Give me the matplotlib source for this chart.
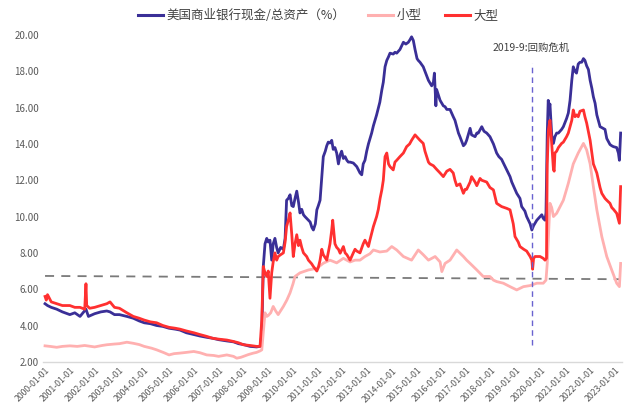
import matplotlib
matplotlib.use("Agg")
import matplotlib.pyplot as plt
from matplotlib.lines import Line2D

plt.rcParams['font.family'] = ['Noto Sans CJK SC', 'DejaVu Sans']

# ---- data (decimal years, % of assets) ----
all_t = [2000.0, 2000.1, 2000.25, 2000.47, 2000.7, 2001.0, 2001.2, 2001.41, 2001.65, 2001.75,
         2002.0, 2002.25, 2002.49, 2002.62, 2002.8, 2003.0, 2003.3, 2003.56, 2003.8, 2004.0,
         2004.25, 2004.5, 2004.75, 2005.0, 2005.25, 2005.44, 2005.7, 2006.0, 2006.25, 2006.52,
         2006.75, 2007.0, 2007.33, 2007.6, 2007.8, 2008.0, 2008.27, 2008.53, 2008.67, 2008.74,
         2008.8, 2008.87, 2008.94, 2009.0, 2009.07, 2009.14, 2009.2, 2009.27, 2009.34, 2009.4,
         2009.5, 2009.61, 2009.68, 2009.74, 2009.81, 2009.88, 2009.95, 2010.01, 2010.08, 2010.15,
         2010.22, 2010.28, 2010.35, 2010.42, 2010.48, 2010.55, 2010.62, 2010.69, 2010.76, 2010.82,
         2010.9, 2010.96, 2011.02, 2011.09, 2011.16, 2011.22, 2011.3, 2011.36, 2011.42, 2011.49,
         2011.56, 2011.62, 2011.69, 2011.76, 2011.83, 2011.9, 2011.96, 2012.03, 2012.1, 2012.17,
         2012.23, 2012.3, 2012.43, 2012.57, 2012.7, 2012.77, 2012.83, 2012.9, 2012.97, 2013.04,
         2013.17, 2013.24, 2013.37, 2013.5, 2013.58, 2013.64, 2013.71, 2013.78, 2013.85, 2013.91,
         2014.04, 2014.11, 2014.18, 2014.31, 2014.38, 2014.45, 2014.55, 2014.65, 2014.72, 2014.78,
         2014.85, 2014.92, 2015.0, 2015.05, 2015.12, 2015.25, 2015.32, 2015.46, 2015.59, 2015.66,
         2015.7, 2015.73, 2015.76, 2015.79, 2015.86, 2015.93, 2016.06, 2016.13, 2016.2, 2016.33,
         2016.46, 2016.53, 2016.67, 2016.73, 2016.87, 2016.94, 2017.0, 2017.14, 2017.2, 2017.34,
         2017.41, 2017.47, 2017.61, 2017.7, 2017.81, 2017.94, 2018.08, 2018.21, 2018.3, 2018.41,
         2018.5, 2018.62, 2018.75, 2018.82, 2018.95, 2019.02, 2019.15, 2019.22, 2019.35, 2019.42,
         2019.56, 2019.63, 2019.7, 2019.83, 2019.96, 2020.03, 2020.09, 2020.16, 2020.2, 2020.25,
         2020.29, 2020.33, 2020.36, 2020.43, 2020.5, 2020.56, 2020.63, 2020.7, 2020.83, 2020.9,
         2021.03, 2021.1, 2021.17, 2021.24, 2021.3, 2021.37, 2021.43, 2021.5, 2021.57, 2021.64,
         2021.71, 2021.77, 2021.84, 2021.91, 2021.98, 2022.05, 2022.11, 2022.18, 2022.25, 2022.38,
         2022.45, 2022.58, 2022.65, 2022.78, 2022.85, 2022.92, 2023.05, 2023.12, 2023.16, 2023.21]
all_v = [5.2, 5.1, 5.0, 4.9, 4.75, 4.6, 4.7, 4.5, 4.9, 4.5,
         4.65, 4.75, 4.8, 4.75, 4.6, 4.6, 4.5, 4.4, 4.25, 4.15,
         4.1, 4.0, 3.95, 3.85, 3.8, 3.75, 3.6, 3.5, 3.42, 3.35,
         3.3, 3.22, 3.15, 3.1, 3.0, 2.95, 2.85, 2.82, 2.85, 3.5,
         7.25, 8.5, 8.8, 8.6, 8.7, 7.6, 8.5, 8.8, 8.3, 8.0,
         8.3, 8.2, 8.8, 10.9, 11.0, 11.2, 10.6, 10.55, 11.0, 11.4,
         10.8, 10.2, 10.4, 10.1, 10.0, 9.9, 9.8, 9.7, 9.4, 9.26,
         9.6, 10.37, 10.6, 10.9, 12.2, 13.3, 13.6, 13.9, 14.1, 14.05,
         14.2, 13.7, 13.8, 13.5, 12.9, 13.4, 13.6, 13.2, 13.3, 13.1,
         13.0, 13.0, 12.95, 12.75, 12.4, 12.3, 12.9, 13.1, 13.6, 14.0,
         14.6, 15.0, 15.6, 16.3, 16.97, 17.4, 18.25, 18.6, 18.8, 19.0,
         18.95, 19.05, 19.0, 19.2, 19.4, 19.6, 19.5, 19.6, 19.75, 19.9,
         19.7, 19.2, 18.7, 18.6, 18.5, 18.25, 18.0, 17.5, 17.2, 17.4,
         17.9, 17.0, 16.1, 17.0, 16.7, 16.4, 16.1, 16.05, 15.9, 15.9,
         15.5, 15.3, 14.6, 14.4, 13.9, 14.0, 14.2, 14.86, 14.5, 14.4,
         14.6, 14.6, 14.95, 14.7, 14.6, 14.4, 14.0, 13.5, 13.3, 13.15,
         12.9, 12.57, 12.2, 11.9, 11.5, 11.28, 11.0, 10.55, 10.3, 10.0,
         9.6, 9.26, 9.5, 9.8, 10.0, 10.1, 9.9, 9.8, 10.2, 14.5,
         16.4, 16.0, 16.2, 14.5, 14.03, 14.4, 14.6, 14.6, 14.8, 14.95,
         15.4, 15.7, 16.4, 17.5, 18.25, 18.0, 17.9, 18.4, 18.5, 18.5,
         18.7, 18.6, 18.3, 18.1, 17.5, 17.06, 16.6, 16.24, 15.6, 14.95,
         14.9, 14.8, 14.3, 13.97, 13.9, 13.85, 13.8, 13.5, 13.1, 14.6]

small_t = [2000.0, 2000.2, 2000.47, 2000.7, 2001.0, 2001.3, 2001.6, 2002.0, 2002.3, 2002.49,
           2002.8, 2003.0, 2003.3, 2003.56, 2003.8, 2004.0, 2004.3, 2004.5, 2004.8, 2005.0,
           2005.2, 2005.44, 2005.7, 2006.0, 2006.25, 2006.52, 2006.8, 2007.0, 2007.33, 2007.6,
           2007.73, 2007.9, 2008.0, 2008.2, 2008.4, 2008.53, 2008.67, 2008.74, 2008.87, 2008.94,
           2009.0, 2009.1, 2009.2, 2009.3, 2009.4, 2009.61, 2009.75, 2009.88, 2010.0, 2010.08,
           2010.28, 2010.62, 2010.96, 2011.22, 2011.49, 2011.76, 2012.03, 2012.3, 2012.5, 2012.7,
           2012.9, 2013.1, 2013.24, 2013.5, 2013.78, 2013.98, 2014.18, 2014.45, 2014.78, 2015.05,
           2015.25, 2015.46, 2015.73, 2015.93, 2016.0, 2016.13, 2016.33, 2016.6, 2016.87, 2017.0,
           2017.14, 2017.41, 2017.67, 2017.94, 2018.08, 2018.21, 2018.48, 2018.75, 2019.02, 2019.29,
           2019.56, 2019.83, 2020.09, 2020.2, 2020.25, 2020.36, 2020.43, 2020.5, 2020.63, 2020.9,
           2021.03, 2021.1, 2021.3, 2021.5, 2021.71, 2021.84, 2021.98, 2022.11, 2022.25, 2022.45,
           2022.65, 2022.85, 2023.05, 2023.16, 2023.21]
small_v = [2.88, 2.85, 2.8, 2.85, 2.88, 2.85, 2.9, 2.82, 2.9, 2.94,
           2.98, 3.0, 3.08, 3.02, 2.95, 2.85, 2.75, 2.66, 2.5, 2.38,
           2.45, 2.48, 2.52, 2.57, 2.5, 2.38, 2.35, 2.3, 2.38, 2.3,
           2.2, 2.25, 2.3, 2.4, 2.48, 2.52, 2.6, 2.66, 4.7, 4.5,
           4.55, 4.7, 5.05, 4.8, 4.6, 5.05, 5.4, 5.8, 6.3, 6.7,
           6.9, 7.06, 7.15, 7.43, 7.6, 7.45, 7.7, 7.5, 7.6, 7.6,
           7.8, 7.95, 8.16, 8.05, 8.1, 8.35, 8.16, 7.8, 7.6, 8.16,
           7.9, 7.6, 7.8, 7.5, 6.97, 7.42, 7.6, 8.16, 7.8, 7.6,
           7.42, 7.06, 6.7, 6.7, 6.5, 6.42, 6.33, 6.14, 5.96, 6.14,
           6.2, 6.33, 6.33, 6.5, 7.42, 10.73, 10.5, 10.0, 10.18, 10.9,
           11.5, 11.83, 12.9, 13.5, 14.03, 13.67, 12.9, 11.65, 10.37, 8.9,
           7.8, 7.06, 6.33, 6.14, 7.42]

large_t = [2000.0, 2000.05, 2000.1, 2000.25, 2000.47, 2000.7, 2001.0, 2001.2, 2001.41, 2001.6,
           2001.65, 2001.68, 2001.8, 2002.0, 2002.25, 2002.49, 2002.62, 2002.8, 2003.0, 2003.3,
           2003.56, 2003.8, 2004.0, 2004.25, 2004.5, 2004.75, 2005.0, 2005.25, 2005.44, 2005.7,
           2006.0, 2006.25, 2006.52, 2006.75, 2007.0, 2007.33, 2007.6, 2007.8, 2008.0, 2008.27,
           2008.53, 2008.67, 2008.74, 2008.8, 2008.87, 2008.94, 2009.0, 2009.07, 2009.14, 2009.2,
           2009.27, 2009.34, 2009.4, 2009.5, 2009.61, 2009.68, 2009.74, 2009.81, 2009.88, 2009.95,
           2010.01, 2010.08, 2010.15, 2010.22, 2010.28, 2010.35, 2010.42, 2010.55, 2010.62, 2010.75,
           2010.82, 2010.96, 2011.02, 2011.09, 2011.16, 2011.22, 2011.36, 2011.49, 2011.56, 2011.6,
           2011.69, 2011.76, 2011.83, 2011.9, 2012.03, 2012.1, 2012.17, 2012.3, 2012.43, 2012.5,
           2012.57, 2012.7, 2012.83, 2012.9, 2013.04, 2013.1, 2013.17, 2013.24, 2013.37, 2013.44,
           2013.51, 2013.58, 2013.64, 2013.71, 2013.78, 2013.85, 2013.91, 2014.04, 2014.11, 2014.18,
           2014.31, 2014.45, 2014.58, 2014.7, 2014.78, 2014.92, 2015.05, 2015.12, 2015.25, 2015.32,
           2015.46, 2015.52, 2015.66, 2015.79, 2015.93, 2016.06, 2016.2, 2016.33, 2016.46, 2016.53,
           2016.6, 2016.73, 2016.87, 2016.94, 2017.0, 2017.14, 2017.2, 2017.34, 2017.41, 2017.54,
           2017.61, 2017.81, 2017.94, 2018.08, 2018.21, 2018.41, 2018.62, 2018.75, 2018.88, 2018.95,
           2019.08, 2019.15, 2019.3, 2019.42, 2019.56, 2019.63, 2019.66, 2019.7, 2019.76, 2019.9,
           2019.96, 2020.09, 2020.16, 2020.22, 2020.25, 2020.3, 2020.36, 2020.43, 2020.5, 2020.53,
           2020.56, 2020.63, 2020.7, 2020.83, 2020.9, 2021.03, 2021.1, 2021.24, 2021.3, 2021.37,
           2021.44, 2021.5, 2021.57, 2021.71, 2021.77, 2021.84, 2021.98, 2022.11, 2022.25, 2022.38,
           2022.45, 2022.58, 2022.65, 2022.78, 2022.85, 2022.92, 2023.05, 2023.16, 2023.21]
large_v = [5.6, 5.4, 5.7, 5.3, 5.2, 5.1, 5.1, 5.0, 5.0, 4.9,
           6.3, 5.1, 4.95, 5.0, 5.1, 5.2, 5.3, 5.0, 4.95, 4.7,
           4.5, 4.4, 4.3, 4.2, 4.15, 4.0, 3.9, 3.85, 3.8, 3.7,
           3.6, 3.5, 3.4, 3.3, 3.25, 3.2, 3.12, 3.05, 2.94, 2.9,
           2.85, 2.85, 4.3, 7.25, 6.9, 6.7, 7.0, 5.5, 6.9, 7.5,
           8.0, 7.6, 7.8, 7.9, 8.0, 8.6, 9.45, 9.8, 10.2, 9.0,
           7.8, 8.5, 9.0, 8.4, 8.7, 8.3, 8.0, 7.8, 7.6, 7.4,
           7.25, 7.0, 7.2, 7.6, 8.2, 7.9, 7.6, 8.5, 9.26, 9.8,
           8.5, 8.3, 8.2, 7.98, 8.35, 8.0, 7.9, 7.6, 8.0, 8.2,
           8.1, 8.0, 8.5, 8.7, 8.35, 8.7, 9.08, 9.45, 10.0, 10.4,
           11.0, 11.47, 12.0, 13.3, 13.5, 12.9, 12.75, 12.57, 13.0, 13.1,
           13.3, 13.5, 13.85, 14.0, 14.2, 14.5, 14.3, 14.2, 14.03, 13.6,
           13.0, 12.9, 12.8, 12.6, 12.4, 12.2, 12.5, 12.6, 12.4, 12.0,
           11.7, 11.8, 11.28, 11.5, 11.5, 11.9, 12.2, 11.9, 11.7, 12.1,
           12.0, 11.9, 11.6, 11.47, 10.73, 10.55, 10.45, 10.37, 9.6, 8.9,
           8.6, 8.35, 8.2, 8.1, 7.8, 7.6, 7.1, 7.7, 7.8, 7.8,
           7.8, 7.7, 7.6, 7.7, 12.9, 14.8, 15.3, 14.03, 12.6, 12.5,
           13.5, 13.6, 13.8, 14.03, 14.1, 14.4, 14.6, 15.3, 15.87, 15.5,
           15.6, 15.5, 15.8, 15.87, 15.5, 15.15, 14.2, 12.9, 12.4, 11.6,
           11.28, 11.0, 10.9, 10.73, 10.5, 10.4, 10.18, 9.63, 11.65]

ref_line_t = [2000.0, 2023.2]
ref_line_v = [6.73, 6.55]
crisis_t = 2019.62
crisis_span = [2.94, 18.45]
year_ticks = list(range(2000, 2024))
tick_labels = [f"{y}-01-01" for y in year_ticks]
y_ticks = [2, 4, 6, 8, 10, 12, 14, 16, 18, 20]

labels = ["美国商业银行现金/总资产（%）", "小型", "大型"]
colors = ["#3a2f97", "#ffb0b0", "#ff3030"]

fig = plt.figure(figsize=(6.24, 4.07), dpi=100)
ax = fig.add_axes([0.069, 0.111, 0.928, 0.803])

ax.plot(all_t, all_v, color=colors[0], lw=2.0, label=labels[0], zorder=3)
ax.plot(small_t, small_v, color=colors[1], lw=2.0, label=labels[1], zorder=4)
ax.plot(large_t, large_v, color=colors[2], lw=2.0, label=labels[2], zorder=5)

ax.plot(ref_line_t, ref_line_v, color="#7a7a7a", lw=1.3, ls=(0, (5, 4)), zorder=2)
ax.plot([crisis_t, crisis_t], crisis_span, color="#6a62d0", lw=1.0, ls=(0, (4, 3)), zorder=6)
ax.text(crisis_t, 19.3, "2019-9:回购危机", ha="center", va="center", fontsize=7.5,
        color="#404040")

ax.set_xlim(1999.92, 2023.27)
ax.set_ylim(2, 20)
ax.set_yticks(y_ticks)
ax.set_yticklabels([f"{v:.2f}" for v in y_ticks], fontsize=7, color="#595959")
ax.set_xticks(year_ticks)
ax.set_xticklabels(tick_labels, rotation=45, ha="right", rotation_mode="anchor",
                   fontsize=6.3, color="#595959")
ax.tick_params(axis="both", length=0, pad=3)
for s in ["top", "right", "left"]:
    ax.spines[s].set_visible(False)
ax.spines["bottom"].set_color("#d9d9d9")
ax.spines["bottom"].set_linewidth(1.0)

handles = [Line2D([0], [0], color=c, lw=2.2) for c in colors]
fig.legend(handles, labels, loc="center", bbox_to_anchor=(0.51, 0.962), ncol=3,
           frameon=False, fontsize=9, handlelength=2.0, handletextpad=0.3,
           columnspacing=1.8, labelcolor="#404040")

fig.savefig("out.png", dpi=100)
